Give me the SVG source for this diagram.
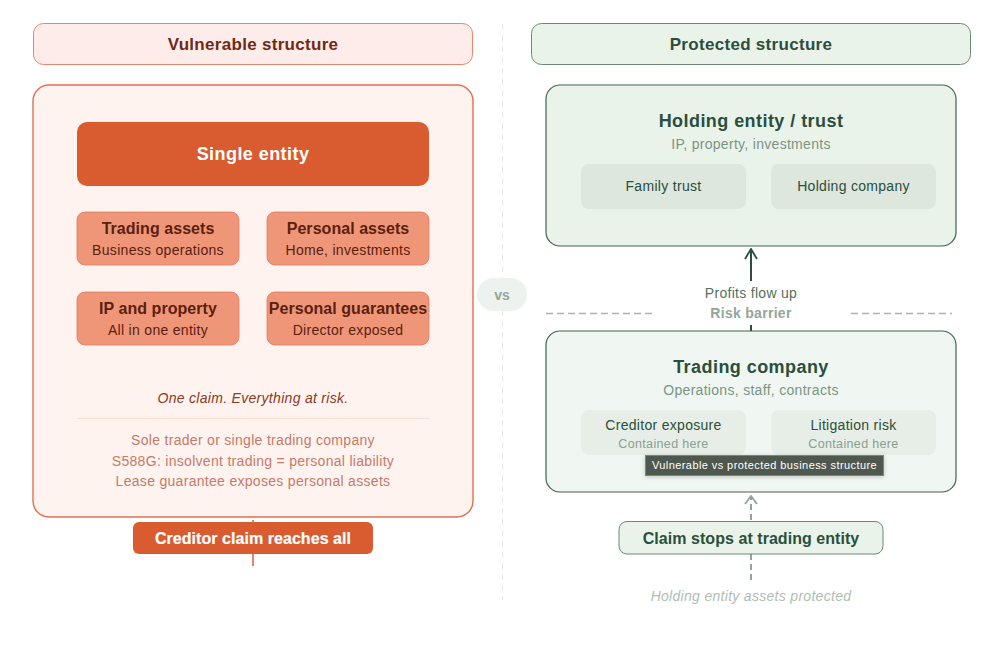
<svg xmlns="http://www.w3.org/2000/svg" width="995" height="652" viewBox="0 0 995 652">
<style>
text{font-family:"Liberation Sans",Arial,sans-serif;text-anchor:middle}
.b{font-weight:700}
.red{fill:#feeceb;stroke:#e8866a;stroke-width:1}
.sm{fill:#ef9678;stroke:#e4795a;stroke-width:.8}
.gr{fill:#eaf3ea;stroke:#6a8a76;stroke-width:1}
.in{fill:#dde7de}
.inl{fill:#e6eee7}
.t14{font-size:14px;letter-spacing:.3px}
.t16{font-size:16px;letter-spacing:.05px}
.hd{font-size:17px;font-weight:700;letter-spacing:.3px}
.t18{font-size:18px;font-weight:700;letter-spacing:.44px}
.ct{font-size:12.500px;letter-spacing:.35px;fill:#8aa092}
</style>
<defs>
<marker id="ah" markerWidth="12" markerHeight="14" refX="11" refY="7" orient="auto" markerUnits="userSpaceOnUse" viewBox="0 0 12 14"><path d="M1 1L11 7L1 13" fill="none" stroke="#2a4f3c" stroke-width="1.800"/></marker>
<marker id="ah2" markerWidth="12" markerHeight="14" refX="11" refY="7" orient="auto" markerUnits="userSpaceOnUse" viewBox="0 0 12 14"><path d="M3 1L11 7L3 13" fill="none" stroke="#8fa597" stroke-width="1.800"/></marker>
<filter id="sh" x="-5%" y="-30%" width="110%" height="170%"><feDropShadow dx="0" dy="1" stdDeviation="2" flood-color="#000" flood-opacity=".2"/></filter>
</defs>
<rect width="995" height="652" fill="#fff"/>
<g id="connectors" fill="none">
<path d="M502.500 24V600" stroke="#e6e9e6" stroke-width="1" stroke-dasharray="6 5"/>
<path d="M546 313.500H655M851 313.500H952" stroke="#a9b5ad" stroke-width="1.500" stroke-dasharray="7 4"/>
<path d="M751 281V249" stroke="#2a4f3c" stroke-width="2" marker-end="url(#ah)"/>
<path d="M751 325V331" stroke="#2a4f3c" stroke-width="2"/>
<path d="M751 580V496" stroke="#8fa597" stroke-width="2" stroke-dasharray="6 4" marker-end="url(#ah2)"/>
<path d="M253 566V520" stroke="#e8866a" stroke-width="2"/>
</g>
<g id="vulnerable-header"><rect class="red" x="33.500" y="23.500" width="439" height="41" rx="10"/><text class="hd" x="253" y="49.500" fill="#6f2a14">Vulnerable structure</text></g>
<g id="vulnerable-panel"><rect x="33" y="85" width="440" height="432" rx="16" fill="#fff3f0" stroke="#e2704f" stroke-width="1.400"/></g>
<g id="single-entity"><rect x="77" y="122" width="352" height="64" rx="10" fill="#d95b30"/><text class="t18" x="253" y="159.500" fill="#fff">Single entity</text></g>
<g id="trading-assets"><rect class="sm" x="77" y="212" width="162" height="53" rx="8"/><text class="b t16" x="158" y="234" fill="#5c2010">Trading assets</text><text class="t14" x="158" y="255" fill="#5c2010">Business operations</text></g>
<g id="personal-assets"><rect class="sm" x="267" y="212" width="162" height="53" rx="8"/><text class="b t16" x="348" y="234" fill="#5c2010">Personal assets</text><text class="t14" x="348" y="255" fill="#5c2010">Home, investments</text></g>
<g id="ip-property"><rect class="sm" x="77" y="292" width="162" height="53" rx="8"/><text class="b t16" x="158" y="314" fill="#5c2010">IP and property</text><text class="t14" x="158" y="335" fill="#5c2010">All in one entity</text></g>
<g id="personal-guarantees"><rect class="sm" x="267" y="292" width="162" height="53" rx="8"/><text class="b t16" x="348" y="314" fill="#5c2010">Personal guarantees</text><text class="t14" x="348" y="335" fill="#5c2010">Director exposed</text></g>
<g id="vulnerable-notes">
<text class="t14" font-style="italic" x="253" y="403" fill="#8c3a20">One claim. Everything at risk.</text>
<path d="M77 418.500H429" stroke="#fbdcd2" stroke-width="1"/>
<text class="t14" x="253" y="445" fill="#c67a68">Sole trader or single trading company</text>
<text class="t14" x="253" y="466" fill="#c67a68">S588G: insolvent trading = personal liability</text>
<text class="t14" x="253" y="486" fill="#c67a68">Lease guarantee exposes personal assets</text>
</g>
<g id="creditor-claim"><rect x="133" y="522" width="240" height="32" rx="6" fill="#d95b30"/><text class="b t16" x="253" y="544" fill="#fff" stroke="#fff" stroke-width=".2">Creditor claim reaches all</text></g>
<g id="vs"><rect x="477" y="278" width="50" height="33" rx="16.500" fill="#eef2ee"/><text class="b" font-size="14" x="502" y="300" fill="#93a69a">vs</text></g>
<g id="protected-header"><rect class="gr" x="531.500" y="23.500" width="439" height="41" rx="10"/><text class="hd" x="751" y="49.500" fill="#2a4f3c">Protected structure</text></g>
<g id="holding-entity"><rect class="gr" x="546" y="85" width="410" height="161" rx="14" style="stroke:#3f6350;stroke-width:1.200"/><text class="t18" x="751" y="127" fill="#2a4f3c">Holding entity / trust</text><text class="t14" x="751" y="149" fill="#7c9485">IP, property, investments</text></g>
<g id="family-trust"><rect class="in" x="581" y="164" width="165" height="45" rx="8"/><text class="t14" x="663.500" y="191" fill="#2a4f3c">Family trust</text></g>
<g id="holding-company"><rect class="in" x="771" y="164" width="165" height="45" rx="8"/><text class="t14" x="853.500" y="191" fill="#2a4f3c">Holding company</text></g>
<g id="flow-labels"><text class="t14" x="751" y="298" fill="#55705f">Profits flow up</text><text class="b t14" x="751" y="318" fill="#93a69a">Risk barrier</text></g>
<g id="trading-company"><rect x="546" y="331" width="410" height="161" rx="14" fill="#f0f6f1" stroke="#3f6350" stroke-width="1.200"/><text class="t18" x="751" y="373" fill="#2a4f3c">Trading company</text><text class="t14" x="751" y="395" fill="#7c9485">Operations, staff, contracts</text></g>
<g id="creditor-exposure"><rect class="inl" x="581" y="410" width="165" height="45" rx="8"/><text class="t14" x="663.500" y="430" fill="#2a4f3c">Creditor exposure</text><text class="ct" x="663.500" y="448">Contained here</text></g>
<g id="litigation-risk"><rect class="inl" x="771" y="410" width="165" height="45" rx="8"/><text class="t14" x="853.500" y="430" fill="#2a4f3c">Litigation risk</text><text class="ct" x="853.500" y="448">Contained here</text></g>
<g id="tooltip"><rect x="645.500" y="455.500" width="238" height="20" fill="#50584f" stroke="#7b847c" stroke-width="1" filter="url(#sh)"/><text font-size="11" x="764.500" y="469" fill="#fff" letter-spacing=".42">Vulnerable vs protected business structure</text></g>
<g id="claim-stops"><rect x="619" y="521.500" width="264" height="32.500" rx="8" fill="#eaf3ea" stroke="#6a8a76" stroke-width="1"/><text class="b t16" x="751" y="544" fill="#2a4f3c">Claim stops at trading entity</text></g>
<g id="protected-note"><text class="t14" font-style="italic" x="751" y="601" fill="#afbdb3">Holding entity assets protected</text></g>
</svg>
